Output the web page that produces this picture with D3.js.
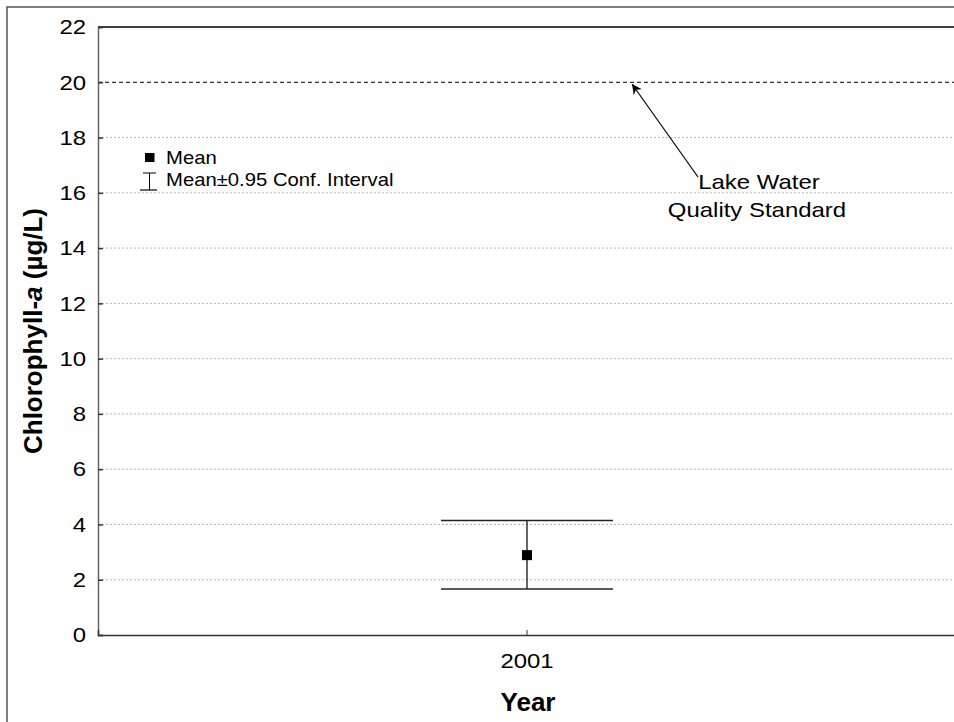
<!DOCTYPE html>
<html><head><meta charset="utf-8">
<script src="https://cdn.jsdelivr.net/npm/d3@7"></script>
<style>body{margin:0;background:#fff}svg{display:block;font-family:Arial,"Liberation Sans",sans-serif}</style>
</head><body><svg id="c" width="954" height="722"></svg>
<script>
const categories = ["2001"];
const means = [2.89];
const ciLower = [1.66];
const ciUpper = [4.14];
const yTicks = [0,2,4,6,8,10,12,14,16,18,20,22];
const standard = 20;

const FONT = "Arial, 'Liberation Sans', sans-serif";
const STRETCH = 1.14;
function stretch(sel) {
  sel.each(function () {
    const w = this.getComputedTextLength();
    d3.select(this).attr("textLength", w * STRETCH).attr("lengthAdjust", "spacingAndGlyphs");
  });
}

const svg = d3.select("#c");
const L = 98, R = 956, T = 27, B = 635;
const x = d3.scaleBand().domain(categories).range([L, R]);
const y = d3.scaleLinear().domain([0, 22]).range([B, T]);

// outer frame
svg.append("path").attr("d", "M7,722 V7 H954").attr("fill","none").attr("stroke","#555").attr("stroke-width",1.5);

// gridlines
svg.append("g").selectAll("line").data(yTicks.filter(d => d > 0 && d < 22 && d !== standard)).join("line")
  .attr("x1", L).attr("x2", R).attr("y1", d => y(d)).attr("y2", d => y(d))
  .attr("stroke", "#b5b5b5").attr("stroke-width", 1).attr("stroke-dasharray", "2,2");

// standard line
svg.append("line").attr("x1", L).attr("x2", R).attr("y1", y(standard)).attr("y2", y(standard))
  .attr("stroke", "#000").attr("stroke-width", 1).attr("stroke-dasharray", "4,3");

// top border
svg.append("line").attr("x1", L).attr("x2", R).attr("y1", T).attr("y2", T).attr("stroke", "#000").attr("stroke-width", 1.5);

// y axis
const yAxis = svg.append("g").attr("transform", `translate(${L},0)`)
  .call(d3.axisLeft(y).tickValues(yTicks).tickSize(-5).tickPadding(12));
yAxis.select(".domain").attr("stroke", "#666").attr("stroke-width", 1.5);
yAxis.selectAll(".tick line").attr("stroke", "#333").attr("stroke-width", 1.5);
yAxis.selectAll("text").attr("font-size", 21).attr("fill", "#000").attr("font-family", FONT).call(stretch);

// x axis
const xAxis = svg.append("g").attr("transform", `translate(0,${B})`)
  .call(d3.axisBottom(x).tickSize(-5).tickPadding(18));
xAxis.select(".domain").attr("stroke", "#333").attr("stroke-width", 1.5);
xAxis.selectAll(".tick line").attr("stroke", "#333");
xAxis.selectAll("text").attr("font-size", 21).attr("fill", "#000").attr("font-family", FONT).call(stretch);

// error bars
const capHalf = 86;
const g = svg.append("g");
categories.forEach((c, i) => {
  const cx = x(c) + x.bandwidth() / 2;
  g.append("line").attr("x1", cx).attr("x2", cx).attr("y1", y(ciUpper[i])).attr("y2", y(ciLower[i])).attr("stroke", "#000").attr("stroke-width", 1.2);
  [ciUpper[i], ciLower[i]].forEach(v => {
    g.append("line").attr("x1", cx - capHalf).attr("x2", cx + capHalf).attr("y1", y(v)).attr("y2", y(v)).attr("stroke", "#222").attr("stroke-width", 1.5);
  });
  g.append("rect").attr("x", cx - 5).attr("y", y(means[i]) - 5).attr("width", 10).attr("height", 10).attr("fill", "#000");
});

// legend
const lg = svg.append("g");
lg.append("rect").attr("x", 145).attr("y", 153).attr("width", 9.5).attr("height", 9).attr("fill", "#000");
lg.append("text").attr("x", 166).attr("y", 164).attr("font-size", 17.8).text("Mean").call(stretch);
lg.append("line").attr("x1", 149.5).attr("x2", 149.5).attr("y1", 173).attr("y2", 190).attr("stroke", "#000");
lg.append("line").attr("x1", 143).attr("x2", 156).attr("y1", 173).attr("y2", 173).attr("stroke", "#000");
lg.append("line").attr("x1", 140).attr("x2", 157).attr("y1", 190).attr("y2", 190).attr("stroke", "#000").attr("stroke-width", 1.2);
lg.append("text").attr("x", 166).attr("y", 186).attr("font-size", 17.8).text("Mean±0.95 Conf. Interval").call(stretch);

// annotation
svg.append("defs").append("marker").attr("id", "ah").attr("viewBox", "0 0 10 10").attr("refX", 10).attr("refY", 5)
  .attr("markerWidth", 14).attr("markerHeight", 10).attr("markerUnits", "userSpaceOnUse").attr("orient", "auto")
  .append("path").attr("d", "M0,0 L10,5 L0,10 L3,5 Z").attr("fill", "#000");
svg.append("line").attr("x1", 698).attr("y1", 177).attr("x2", 632).attr("y2", 84)
  .attr("stroke", "#000").attr("stroke-width", 1.2).attr("marker-end", "url(#ah)");
svg.append("text").attr("x", 759).attr("y", 189).attr("text-anchor", "middle").attr("font-size", 21).text("Lake Water").call(stretch);
svg.append("text").attr("x", 757).attr("y", 217).attr("text-anchor", "middle").attr("font-size", 21).text("Quality Standard").call(stretch);

// axis titles
const yt = svg.append("text").attr("transform", `translate(42,${(T + B) / 2}) rotate(-90)`)
  .attr("text-anchor", "middle").attr("font-size", 26).attr("font-weight", "bold");
yt.append("tspan").text("Chlorophyll-");
yt.append("tspan").attr("font-style", "italic").text("a");
yt.append("tspan").text(" (µg/L)");
svg.append("text").attr("x", 528).attr("y", 711).attr("text-anchor", "middle").attr("font-size", 26).attr("font-weight", "bold").text("Year");
</script></body></html>
